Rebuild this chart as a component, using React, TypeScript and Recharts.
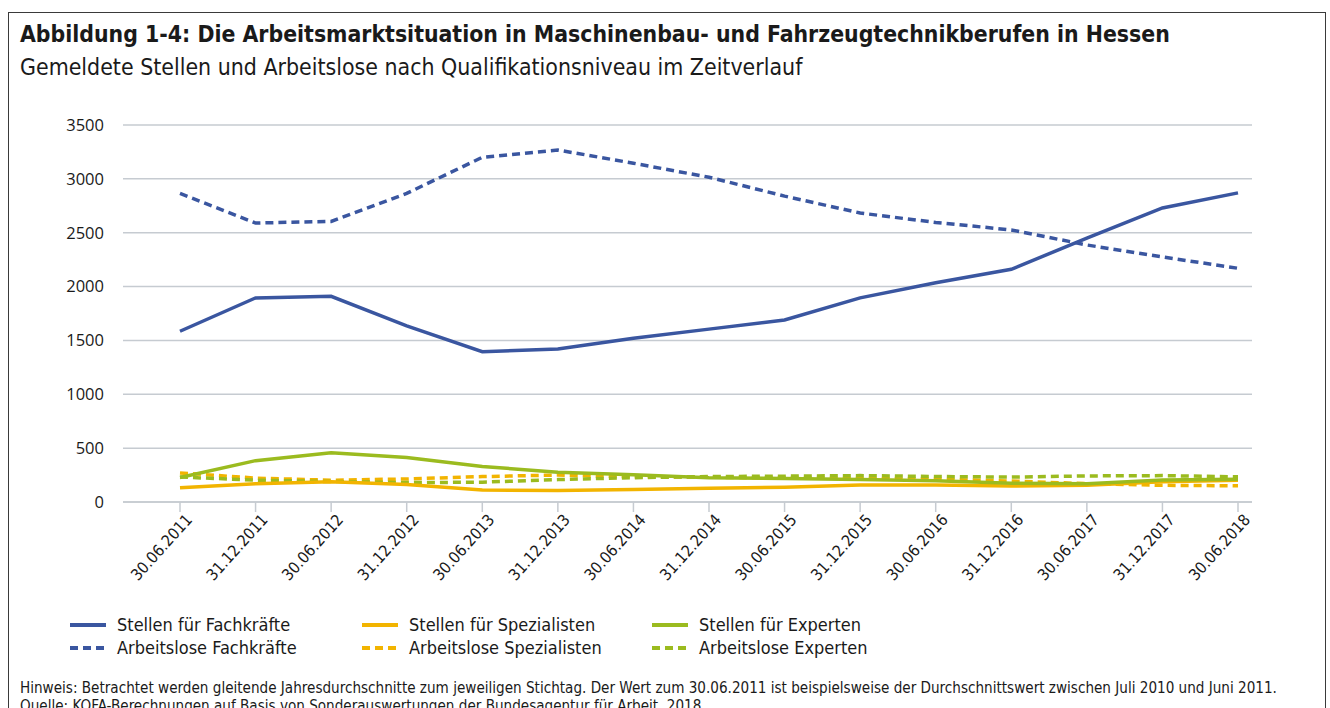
import { CartesianGrid, Line, LineChart, XAxis, YAxis } from 'recharts'

const categories = [
  '30.06.2011',
  '31.12.2011',
  '30.06.2012',
  '31.12.2012',
  '30.06.2013',
  '31.12.2013',
  '30.06.2014',
  '31.12.2014',
  '30.06.2015',
  '31.12.2015',
  '30.06.2016',
  '31.12.2016',
  '30.06.2017',
  '31.12.2017',
  '30.06.2018',
]

const stellenFachkraefte = [1585, 1895, 1910, 1635, 1395, 1420, 1520, 1605, 1690, 1895, 2035, 2160, 2450, 2730, 2870]
const arbeitsloseFachkraefte = [2865, 2590, 2605, 2865, 3200, 3268, 3145, 3015, 2840, 2683, 2595, 2526, 2386, 2275, 2170]
const stellenSpezialisten = [132, 170, 187, 162, 112, 106, 115, 127, 137, 157, 157, 149, 155, 189, 201]
const arbeitsloseSpezialisten = [270, 222, 202, 214, 236, 250, 235, 230, 222, 218, 212, 195, 170, 155, 150]
const stellenExperten = [228, 384, 458, 413, 330, 277, 252, 226, 218, 210, 198, 174, 170, 204, 211]
const arbeitsloseExperten = [232, 203, 190, 180, 184, 208, 226, 236, 240, 245, 237, 231, 242, 245, 234]

const yTicks = [0, 500, 1000, 1500, 2000, 2500, 3000, 3500]

const palette = {
  blue: '#3a56a0',
  yellow: '#f2b400',
  green: '#9bbb1f',
  grid: '#c6cbd1',
  ink: '#1a1a1a',
}

const series = [
  { key: 'stellenFachkraefte', name: 'Stellen für Fachkräfte', color: palette.blue, dashed: false, values: stellenFachkraefte },
  { key: 'stellenSpezialisten', name: 'Stellen für Spezialisten', color: palette.yellow, dashed: false, values: stellenSpezialisten },
  { key: 'stellenExperten', name: 'Stellen für Experten', color: palette.green, dashed: false, values: stellenExperten },
  { key: 'arbeitsloseFachkraefte', name: 'Arbeitslose Fachkräfte', color: palette.blue, dashed: true, values: arbeitsloseFachkraefte },
  { key: 'arbeitsloseSpezialisten', name: 'Arbeitslose Spezialisten', color: palette.yellow, dashed: true, values: arbeitsloseSpezialisten },
  { key: 'arbeitsloseExperten', name: 'Arbeitslose Experten', color: palette.green, dashed: true, values: arbeitsloseExperten },
]

const drawOrder = [
  'stellenFachkraefte',
  'arbeitsloseFachkraefte',
  'arbeitsloseSpezialisten',
  'arbeitsloseExperten',
  'stellenSpezialisten',
  'stellenExperten',
]

const chartData = categories.map((date, i) => {
  const row: Record<string, string | number> = { date }
  series.forEach((s) => {
    row[s.key] = s.values[i]
  })
  return row
})

const condensed = '"DejaVu Sans Condensed", "DejaVu Sans", sans-serif'
const dashPattern = '8 5'

function DateTick({ x, y, payload }: { x?: number; y?: number; payload?: { value: string } }) {
  return (
    <g transform={`translate(${x},${y})`}>
      <text
        x={0}
        y={0}
        dx={4}
        dy={14}
        textAnchor="end"
        transform="rotate(-48)"
        fill={palette.ink}
        fontSize={16}
        fontFamily={condensed}
      >
        {payload?.value}
      </text>
    </g>
  )
}

function LegendItem({ name, color, dashed }: { name: string; color: string; dashed: boolean }) {
  return (
    <div style={{ display: 'flex', alignItems: 'center', height: 23 }}>
      <svg width={36} height={8} style={{ marginRight: 11 }}>
        <line
          x1={0}
          y1={4}
          x2={36}
          y2={4}
          stroke={color}
          strokeWidth={4}
          strokeDasharray={dashed ? '8 5' : undefined}
        />
      </svg>
      <span>{name}</span>
    </div>
  )
}

export default function App() {
  const legendColumns = [0, 1, 2].map((col) => [series[col], series[col + 3]])
  const columnLeft = [70, 362, 652]

  return (
    <div
      style={{
        position: 'fixed',
        left: 0,
        top: 0,
        width: 1330,
        height: 708,
        overflow: 'hidden',
        background: '#fff',
        color: palette.ink,
      }}
    >
      <div
        style={{
          position: 'absolute',
          left: 8,
          top: 12,
          width: 1316,
          height: 760,
          border: '1.5px solid #3a3a3a',
        }}
      />
      <div
        style={{
          position: 'absolute',
          left: 20,
          top: 21,
          fontFamily: condensed,
          fontWeight: 700,
          fontSize: 22.8,
          whiteSpace: 'nowrap',
        }}
      >
        Abbildung 1-4: Die Arbeitsmarktsituation in Maschinenbau- und Fahrzeugtechnikberufen in Hessen
      </div>
      <div
        style={{
          position: 'absolute',
          left: 20,
          top: 54,
          fontFamily: condensed,
          fontSize: 22.9,
          whiteSpace: 'nowrap',
        }}
      >
        Gemeldete Stellen und Arbeitslose nach Qualifikationsniveau im Zeitverlauf
      </div>

      <div style={{ position: 'absolute', left: 0, top: 0 }}>
        <LineChart
          width={1330}
          height={600}
          data={chartData}
          margin={{ top: 125, right: 78, bottom: 8, left: 63 }}
        >
          <CartesianGrid vertical={false} stroke={palette.grid} strokeWidth={1.5} />
          <XAxis
            dataKey="date"
            interval={0}
            padding={{ left: 57, right: 14 }}
            height={90}
            axisLine={{ stroke: palette.grid, strokeWidth: 1.5 }}
            tickLine={{ stroke: palette.grid, strokeWidth: 1.5 }}
            tickSize={10}
            tick={<DateTick />}
          />
          <YAxis
            domain={[0, 3500]}
            ticks={yTicks}
            width={60}
            axisLine={false}
            tickLine={false}
            tickSize={0}
            tickMargin={19}
            tick={{ fill: palette.ink, fontSize: 16.5, fontFamily: '"Open Sans", sans-serif' }}
          />
          {drawOrder.map((key) => {
            const s = series.find((item) => item.key === key)!
            return (
              <Line
                key={s.key}
                dataKey={s.key}
                name={s.name}
                type="linear"
                stroke={s.color}
                strokeWidth={3.5}
                strokeDasharray={s.dashed ? dashPattern : undefined}
                dot={false}
                activeDot={false}
                isAnimationActive={false}
              />
            )
          })}
        </LineChart>
      </div>

      {legendColumns.map((items, col) => (
        <div
          key={col}
          style={{
            position: 'absolute',
            left: columnLeft[col],
            top: 613,
            fontFamily: condensed,
            fontSize: 18,
          }}
        >
          {items.map((s) => (
            <LegendItem key={s.key} name={s.name} color={s.color} dashed={s.dashed} />
          ))}
        </div>
      ))}

      <div
        style={{
          position: 'absolute',
          left: 20,
          top: 679,
          fontFamily: condensed,
          fontSize: 15.1,
          lineHeight: '18px',
          whiteSpace: 'nowrap',
        }}
      >
        <div>
          Hinweis: Betrachtet werden gleitende Jahresdurchschnitte zum jeweiligen Stichtag. Der Wert zum 30.06.2011 ist
          beispielsweise der Durchschnittswert zwischen Juli 2010 und Juni 2011.
        </div>
        <div>Quelle: KOFA-Berechnungen auf Basis von Sonderauswertungen der Bundesagentur für Arbeit, 2018.</div>
      </div>
    </div>
  )
}
